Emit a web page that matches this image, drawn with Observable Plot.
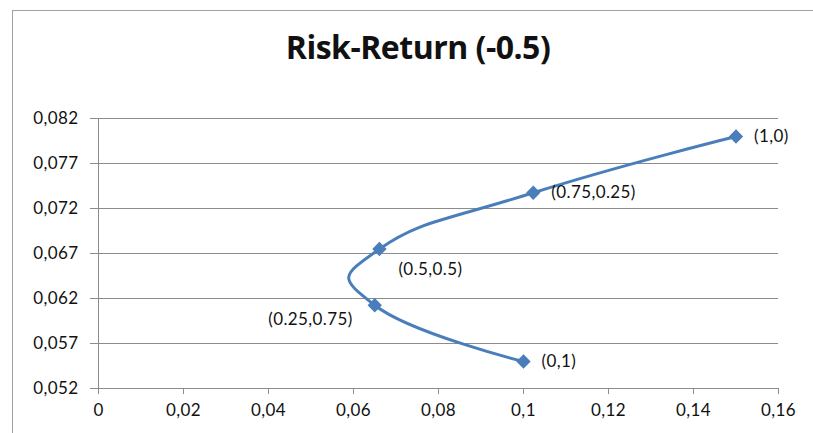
<!DOCTYPE html>
<html>
<head>
<meta charset="utf-8">
<script src="https://cdn.jsdelivr.net/npm/d3@7"></script>
<script src="https://cdn.jsdelivr.net/npm/@observablehq/plot@0.6"></script>
<style>
  html, body { margin: 0; padding: 0; background: #fff; overflow: hidden; width: 813px; height: 433px; }
  #wrap { position: relative; width: 813px; height: 433px; }
  #frame { position: absolute; left: 12px; top: 10px; width: 900px; height: 500px; border: 1px solid #a0a0a0; box-sizing: border-box; }
  #title { position: absolute; left: 0; width: 836px; top: 31px; line-height: 32px; text-align: center; font-family: "Open Sans", sans-serif; font-weight: 700; font-size: 32px; color: #111; letter-spacing: -0.5px; }
  #chart { position: absolute; left: 0; top: 0; }
</style>
</head>
<body>
<div id="wrap">
  <div id="frame"></div>
  <div id="title">Risk-Return (-0.5)</div>
  <div id="chart"></div>
</div>
<script>
// Data: portfolio risk (x) and return (y) for weights (w1,w2)
const risk = [0.1, 0.065, 0.0661, 0.1023, 0.15];
const ret = [0.055, 0.06125, 0.0675, 0.07375, 0.08];
const weights = ["(0,1)", "(0.25,0.75)", "(0.5,0.5)", "(0.75,0.25)", "(1,0)"];
const xTicks = [0, 0.02, 0.04, 0.06, 0.08, 0.1, 0.12, 0.14, 0.16];
const yTicks = [0.052, 0.057, 0.062, 0.067, 0.072, 0.077, 0.082];

const data = risk.map((r, i) => ({risk: r, ret: ret[i], label: weights[i]}));
const fmt = d => String(d).replace(".", ",");
const blue = "#4A7EBB";
const grid = "#8c8c8c";

const labelPos = {
  "(0,1)": {dx: 18, dy: 0, anchor: "start"},
  "(0.25,0.75)": {dx: -22, dy: 14, anchor: "end"},
  "(0.5,0.5)": {dx: 19, dy: 21, anchor: "start"},
  "(0.75,0.25)": {dx: 18, dy: 0, anchor: "start"},
  "(1,0)": {dx: 18, dy: 0, anchor: "start"}
};

const textMarks = data.map(d => Plot.text([d], {
  x: "risk", y: "ret", text: "label",
  dx: labelPos[d.label].dx, dy: labelPos[d.label].dy,
  textAnchor: labelPos[d.label].anchor,
  fontSize: 17, fill: "#111", fontFamily: "Lato, sans-serif"
}));

const plot = Plot.plot({
  width: 813,
  height: 433,
  marginLeft: 98,
  marginRight: 35,
  marginTop: 118,
  marginBottom: 45,
  style: {background: "transparent", fontFamily: "Lato, sans-serif", fontSize: "17px", color: "#111"},
  x: {domain: [0, 0.16]},
  y: {domain: [0.052, 0.082]},
  marks: [
    Plot.ruleY(yTicks, {stroke: grid, strokeWidth: 1}),
    Plot.ruleX([0], {stroke: grid, strokeWidth: 1}),
    Plot.axisY(yTicks, {tickSize: 8, tickPadding: 12, tickFormat: fmt, stroke: grid, fill: "#111", fontSize: 17, label: null}),
    Plot.axisX(xTicks, {tickSize: 6, tickPadding: 9, tickFormat: fmt, stroke: grid, fill: "#111", fontSize: 17, label: null}),
    Plot.line(data, {x: "risk", y: "ret", curve: "cardinal", tension: -0.5, stroke: blue, strokeWidth: 3}),
    Plot.dot(data, {x: "risk", y: "ret", symbol: "diamond2", r: 5.5, fill: blue, stroke: blue}),
    ...textMarks
  ]
});
plot.querySelectorAll("text").forEach(t => t.setAttribute("letter-spacing", "0.4"));
document.getElementById("chart").appendChild(plot);
</script>
</body>
</html>
